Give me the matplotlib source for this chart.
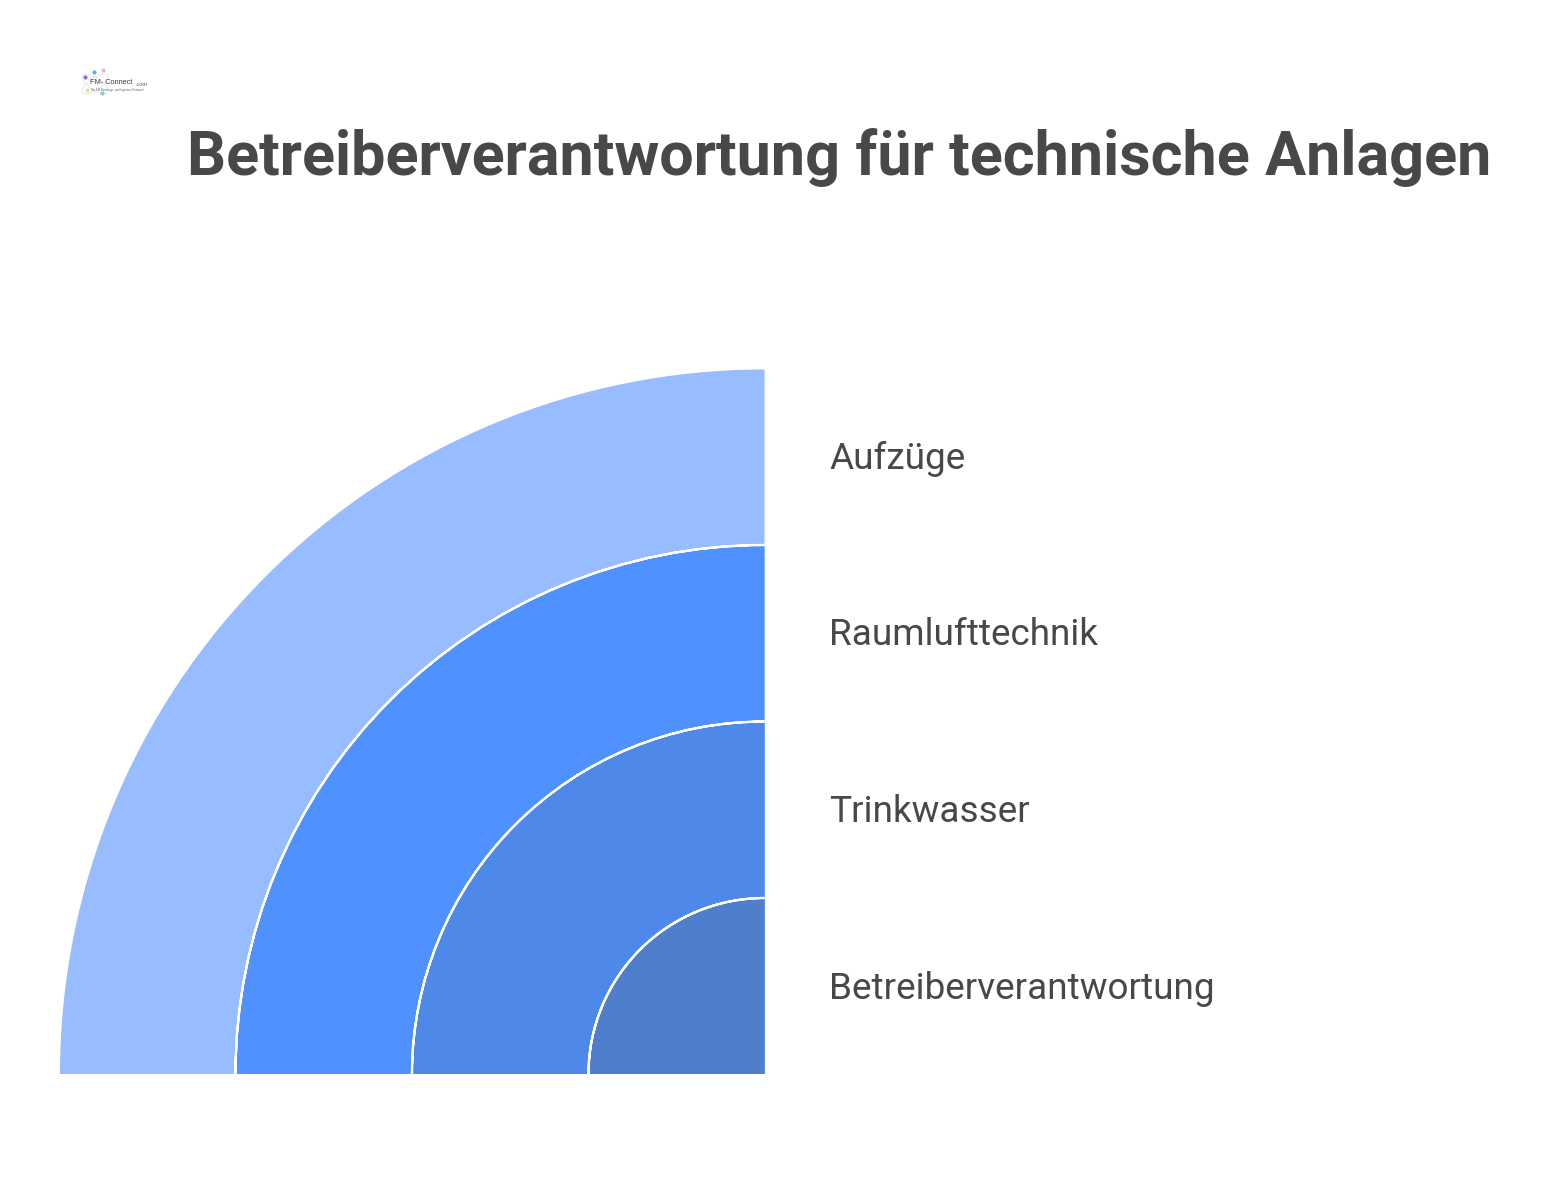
import matplotlib
matplotlib.use('Agg')
import matplotlib.pyplot as plt
from matplotlib.patches import Wedge, Ellipse

# outer to inner, same order as the labels top to bottom
labels = ['Aufzüge', 'Raumlufttechnik', 'Trinkwasser', 'Betreiberverantwortung']
radii = [704.5, 529, 352.5, 176]
colors = ['#97bcff', '#4f91ff', '#4e88e8', '#4f7fcc']
label_heights = [615, 439, 262, 85]

logo_dots = [(-679.5, 997, '#8a70c8'), (-670.5, 1002, '#6fa5d8'), (-661.5, 1004, '#eab8c0'),
             (-677.5, 984, '#e8e288'), (-662.5, 981, '#88c8d0')]

title = 'Betreiberverantwortung für technische Anlagen'
DARK = '#484848'

plt.rcParams['font.family'] = ['Roboto', 'DejaVu Sans']

fig = plt.figure(figsize=(15.58, 11.93), dpi=100)
ax = fig.add_axes([0, 0, 1, 1])
ax.set_xlim(-764.5, 793.5)
ax.set_ylim(-119, 1074)
ax.axis('off')

# a. quarter rings
for r, c in zip(radii, colors):
    ax.add_patch(Wedge((0, 0), r, 90, 180, fc=c, ec='none', zorder=2))
    if r != radii[0]:
        ax.add_patch(Wedge((0, 0), r, 90, 180, width=0, fc='none', ec='white', lw=1.6, zorder=3))

# b. labels next to the rings
for lab, y in zip(labels, label_heights):
    ax.text(65, y, lab, fontsize=26.55, color=DARK, va='center', ha='left')

# c. title
ax.text(74.5, 916, title, fontsize=44.05, fontweight='bold', color=DARK, va='center', ha='center')

# d. logo
ax.add_patch(Ellipse((-669.5, 990), 30, 12, angle=35, fc='none', ec='#e4e9f0', lw=0.8))
ax.add_patch(Ellipse((-669.5, 990), 30, 12, angle=-35, fc='none', ec='#e4e9f0', lw=0.8))
for x, y, c in logo_dots:
    ax.plot(x, y, 'o', ms=3, color=c, mec='none')
logo_font = ['Liberation Sans Narrow', 'Liberation Sans']
ax.text(-674.5, 991, 'FM- Connect', fontsize=5.3, color='#3a3a3a', va='center', ha='left', family=logo_font)
ax.text(-629, 990, '.com', fontsize=4, color='#555555', va='center', ha='left', family=logo_font)
ax.text(-674, 984, 'Die FM-Beratungs- und Ingenieur-Netzwerk', fontsize=2, color='#666666', va='center', ha='left', family=logo_font)

fig.savefig('out.png', dpi=100, facecolor='white')
